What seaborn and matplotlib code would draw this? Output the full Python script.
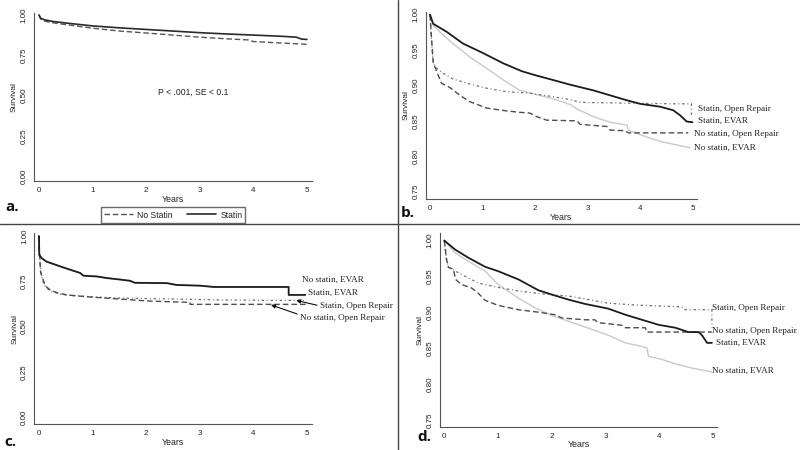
import matplotlib
matplotlib.use("Agg")
import matplotlib.pyplot as plt
import seaborn as sns
import pandas as pd
from matplotlib.lines import Line2D

# ---------------- data ----------------
# Panel a
a_statin_t = [0, 0.03, 0.1, 0.25, 0.5, 1, 1.5, 2, 2.5, 3, 3.5, 4, 4.5, 4.8, 4.9, 5.0]
a_statin_s = [1.0, 0.98, 0.97, 0.96, 0.95, 0.932, 0.92, 0.91, 0.90, 0.89, 0.882, 0.875, 0.868, 0.862, 0.85, 0.848]
a_nostatin_t = [0, 0.03, 0.1, 0.25, 0.5, 1, 1.5, 2, 2.5, 3, 3.5, 3.9, 4.0, 4.5, 5.0]
a_nostatin_s = [1.0, 0.975, 0.962, 0.952, 0.94, 0.918, 0.9, 0.888, 0.875, 0.862, 0.852, 0.845, 0.835, 0.826, 0.818]

# Panel b
b_statin_evar_t = [0, 0.06, 0.32, 0.63, 1.0, 1.4, 1.75, 2.0, 2.35, 2.67, 3.11, 3.43, 3.75, 4.0, 4.38, 4.63, 4.76, 4.89, 5.0]
b_statin_evar_s = [1.0, 0.987, 0.9755, 0.959, 0.946, 0.931, 0.920, 0.9145, 0.9075, 0.901, 0.893, 0.886, 0.879, 0.874, 0.870, 0.865, 0.858, 0.849, 0.848]
b_nostatin_evar_t = [0, 0.06, 0.25, 0.44, 0.76, 1.08, 1.4, 1.71, 2.03, 2.35, 2.67, 2.79, 3.11, 3.43, 3.75, 3.78, 4.06, 4.38, 4.7, 4.95]
b_nostatin_evar_s = [1.0, 0.985, 0.971, 0.959, 0.940, 0.924, 0.9075, 0.893, 0.887, 0.881, 0.873, 0.867, 0.856, 0.848, 0.844, 0.837, 0.829, 0.821, 0.816, 0.812]
b_statin_or_t = [0, 0.03, 0.06, 0.1, 0.25, 0.44, 0.76, 1.08, 1.46, 1.9, 2.35, 2.67, 2.86, 3.75, 4.7, 4.98, 4.98]
b_statin_or_s = [1.0, 0.96, 0.935, 0.926, 0.917, 0.909, 0.902, 0.896, 0.891, 0.889, 0.884, 0.880, 0.876, 0.875, 0.874, 0.874, 0.857]
b_nostatin_or_t = [0, 0.03, 0.06, 0.13, 0.22, 0.38, 0.57, 0.76, 1.08, 1.46, 1.71, 1.9, 2.03, 2.22, 2.8, 2.86, 3.37, 3.43, 3.71, 3.78, 4.92]
b_nostatin_or_s = [1.0, 0.966, 0.933, 0.919, 0.903, 0.897, 0.886, 0.877, 0.868, 0.864, 0.862, 0.861, 0.856, 0.851, 0.850, 0.845, 0.842, 0.837, 0.836, 0.833, 0.833]

# Panel c
c_statin_evar_t = [0, 0.006, 0.05, 0.14, 0.45, 0.77, 0.83, 1.08, 1.27, 1.51, 1.70, 1.79, 2.39, 2.57, 3.01, 3.26, 4.66, 4.66, 4.97]
c_statin_evar_s = [1.0, 0.896, 0.878, 0.859, 0.827, 0.796, 0.781, 0.777, 0.768, 0.760, 0.753, 0.742, 0.740, 0.730, 0.726, 0.719, 0.719, 0.675, 0.675]
c_nostatin_evar_t = c_statin_evar_t[:17]
c_nostatin_evar_s = c_statin_evar_s[:17]
c_statin_or_t = [0, 0.01, 0.03, 0.06, 0.1, 0.15, 0.25, 0.4, 0.6, 1.0, 1.5, 2.0, 2.6, 3.3, 4.2, 5.0]
c_statin_or_s = [1.0, 0.91, 0.82, 0.76, 0.73, 0.71, 0.692, 0.68, 0.672, 0.664, 0.658, 0.655, 0.652, 0.648, 0.645, 0.645]
c_nostatin_or_t = [0, 0.01, 0.03, 0.08, 0.12, 0.21, 0.35, 0.52, 0.89, 1.33, 1.76, 2.08, 2.82, 2.82, 5.0]
c_nostatin_or_s = [1.0, 0.90, 0.80, 0.757, 0.725, 0.702, 0.686, 0.675, 0.665, 0.656, 0.647, 0.641, 0.634, 0.623, 0.623]

# Panel d
d_statin_evar_t = [0, 0.2, 0.45, 0.76, 1.0, 1.38, 1.75, 2.0, 2.31, 2.62, 3.05, 3.37, 3.68, 3.99, 4.30, 4.54, 4.73, 4.79, 4.85, 4.89, 4.98]
d_statin_evar_s = [1.0, 0.9875, 0.976, 0.9635, 0.9575, 0.946, 0.931, 0.925, 0.918, 0.912, 0.9055, 0.897, 0.890, 0.883, 0.879, 0.873, 0.873, 0.869, 0.8625, 0.858, 0.858]
d_nostatin_evar_t = [0, 0.2, 0.45, 0.76, 1.0, 1.38, 1.69, 2.0, 2.31, 2.62, 3.05, 3.37, 3.68, 3.77, 3.80, 4.05, 4.30, 4.61, 4.98]
d_nostatin_evar_s = [1.0, 0.983, 0.971, 0.9575, 0.939, 0.920, 0.9065, 0.896, 0.888, 0.880, 0.8686, 0.858, 0.853, 0.851, 0.8394, 0.835, 0.829, 0.823, 0.8176]
d_statin_or_t = [0, 0.04, 0.075, 0.32, 0.63, 1.0, 1.38, 1.81, 2.31, 2.62, 3.05, 3.68, 4.42, 4.48, 4.98, 4.98]
d_statin_or_s = [1.0, 0.975, 0.963, 0.953, 0.941, 0.935, 0.930, 0.926, 0.923, 0.919, 0.913, 0.910, 0.908, 0.904, 0.904, 0.879]
d_nostatin_or_t = [0, 0.04, 0.075, 0.17, 0.21, 0.32, 0.51, 0.63, 0.76, 1.0, 1.38, 1.81, 2.06, 2.19, 2.62, 2.80, 2.86, 3.30, 3.37, 3.74, 3.77, 4.98]
d_nostatin_or_s = [1.0, 0.974, 0.963, 0.960, 0.946, 0.939, 0.934, 0.927, 0.917, 0.910, 0.904, 0.900, 0.897, 0.8925, 0.890, 0.890, 0.886, 0.8825, 0.879, 0.879, 0.873, 0.873]

year_ticks = [0, 1, 2, 3, 4, 5]
full_ticks = [0.00, 0.25, 0.50, 0.75, 1.00]
zoom_ticks = [0.75, 0.80, 0.85, 0.90, 0.95, 1.00]

labels_4 = ["Statin, Open Repair", "Statin, EVAR", "No statin, Open Repair", "No statin, EVAR"]

# ---------------- style ----------------
sns.set_theme(style="white")
plt.rcParams["font.family"] = ["Liberation Sans", "DejaVu Sans"]

STY = {
    "statin_evar": dict(color="#1c1c1c", lw=1.3, ls="-"),
    "nostatin_evar": dict(color="#c9c9c9", lw=1.0, ls="-"),
    "nostatin_or": dict(color="#4d4d4d", lw=1.0, ls=(0, (4, 2.2))),
    "statin_or": dict(color="#6f6f6f", lw=0.9, ls=(0, (2, 2.2, 0.8, 2.2))),
    "a_statin": dict(color="#2a2a2a", lw=1.2, ls="-"),
    "a_nostatin": dict(color="#555555", lw=1.0, ls=(0, (4, 2))),
}

fig = plt.figure(figsize=(8, 4.5), dpi=100)

def mkax(l, r, b, t):
    return fig.add_axes([l / 800, 1 - b / 450, (r - l) / 800, (b - t) / 450])

ax_a = mkax(34, 311.7, 181, 12.7)
ax_b = mkax(426, 696.7, 199, 11.7)
ax_c = mkax(34.3, 311.7, 424, 233.3)
ax_d = mkax(440, 717.3, 426.7, 233.3)

def draw(ax, t, s, key):
    df = pd.DataFrame({"t": t, "s": s})
    st = STY[key]
    sns.lineplot(data=df, x="t", y="s", ax=ax, estimator=None, sort=False,
                 color=st["color"], linewidth=st["lw"], linestyle=st["ls"])

def style_ax(ax, xlim, ylim, yticks):
    ax.set_xlim(*xlim)
    ax.set_ylim(*ylim)
    ax.set_xticks(year_ticks)
    ax.set_yticks(yticks)
    ax.set_yticklabels([f"{v:.2f}" for v in yticks])
    for sp in ["top", "right"]:
        ax.spines[sp].set_visible(False)
    for sp in ["left", "bottom"]:
        ax.spines[sp].set_color("#555555")
        ax.spines[sp].set_linewidth(0.8)
    ax.tick_params(axis="both", direction="out", length=3, width=0.6, color="#555555",
                   labelsize=5.8, labelcolor="#222222", pad=1.5)
    ax.tick_params(axis="y", labelrotation=90)
    for lab in ax.get_yticklabels():
        lab.set_va("center")
    ax.set_xlabel("Years", fontsize=6.3, color="#222222", labelpad=0.5)
    ax.set_ylabel("Survival", fontsize=6.0, color="#222222", labelpad=2)
    ax.grid(False)

# Panel a
draw(ax_a, a_nostatin_t, a_nostatin_s, "a_nostatin")
draw(ax_a, a_statin_t, a_statin_s, "a_statin")
style_ax(ax_a, (-0.093, 5.088), (-0.031, 1.014), full_ticks)
ax_a.text(2.87, 0.517, "P < .001, SE < 0.1", fontsize=6.2, ha="center", va="center", color="#222222")

handles = [Line2D([], [], color=STY["a_nostatin"]["color"], lw=1.0, ls=STY["a_nostatin"]["ls"]),
           Line2D([], [], color=STY["a_statin"]["color"], lw=1.2)]
fig.legend(handles, ["No Statin", "Statin"], loc="center", bbox_to_anchor=(173 / 800, 1 - 215 / 450),
           ncol=2, fontsize=6.2, frameon=True, fancybox=False, edgecolor="#444444",
           handlelength=3.4, columnspacing=1.6, borderpad=0.35, handletextpad=0.5)

# Panel b
draw(ax_b, b_nostatin_evar_t, b_nostatin_evar_s, "nostatin_evar")
draw(ax_b, b_statin_or_t, b_statin_or_s, "statin_or")
draw(ax_b, b_nostatin_or_t, b_nostatin_or_s, "nostatin_or")
draw(ax_b, b_statin_evar_t, b_statin_evar_s, "statin_evar")
style_ax(ax_b, (-0.076, 5.08), (0.7397, 1.004), zoom_ticks)
serif = ["Liberation Serif", "DejaVu Serif"]
b_lab_pos = [(5.1, 0.8666), (5.1, 0.850), (5.02, 0.832), (5.03, 0.812)]
for txt, (x, y) in zip(labels_4, b_lab_pos):
    ax_b.text(x, y, txt, fontsize=6.6, family=serif, ha="left", va="center", color="#222222", clip_on=False)

# Panel c
draw(ax_c, c_nostatin_evar_t, c_nostatin_evar_s, "nostatin_evar")
draw(ax_c, c_statin_or_t, c_statin_or_s, "statin_or")
draw(ax_c, c_nostatin_or_t, c_nostatin_or_s, "nostatin_or")
draw(ax_c, c_statin_evar_t, c_statin_evar_s, "statin_evar")
style_ax(ax_c, (-0.087, 5.09), (-0.037, 1.015), full_ticks)
ax_c.text(4.90, 0.757, "No statin, EVAR", fontsize=6.6, family=serif, ha="left", va="center", color="#222222", clip_on=False)
ax_c.text(5.03, 0.684, "Statin, EVAR", fontsize=6.6, family=serif, ha="left", va="center", color="#222222", clip_on=False)
ax_c.annotate("Statin, Open Repair", xy=(4.8, 0.645), xytext=(5.25, 0.614), fontsize=6.6, family=serif,
              ha="left", va="center", color="#222222", annotation_clip=False,
              arrowprops=dict(arrowstyle="-|>", color="#111111", lw=0.8, mutation_scale=6,
                              shrinkA=0, shrinkB=0, relpos=(0, 0.5)))
ax_c.annotate("No statin, Open Repair", xy=(4.33, 0.62), xytext=(4.88, 0.546), fontsize=6.6, family=serif,
              ha="left", va="center", color="#222222", annotation_clip=False,
              arrowprops=dict(arrowstyle="-|>", color="#111111", lw=0.8, mutation_scale=6,
                              shrinkA=0, shrinkB=0, relpos=(0, 0.9)))

# Panel d
draw(ax_d, d_nostatin_evar_t, d_nostatin_evar_s, "nostatin_evar")
draw(ax_d, d_statin_or_t, d_statin_or_s, "statin_or")
draw(ax_d, d_nostatin_or_t, d_nostatin_or_s, "nostatin_or")
draw(ax_d, d_statin_evar_t, d_statin_evar_s, "statin_evar")
style_ax(ax_d, (-0.08, 5.08), (0.7417, 1.01), zoom_ticks)
ax_d.xaxis.labelpad = 0
d_lab_pos = [(4.99, 0.906), (5.05, 0.8575), (4.99, 0.8746), (4.99, 0.8195)]
for txt, (x, y) in zip(labels_4, d_lab_pos):
    ax_d.text(x, y, txt, fontsize=6.6, family=serif, ha="left", va="center", color="#222222", clip_on=False)

# Panel letters
letter_font = ["Open Sans", "DejaVu Sans"]
for lt, (px, py) in zip(["a.", "b.", "c.", "d."], [(5, 207), (401, 213), (4, 442), (417, 437)]):
    fig.text(px / 800, 1 - py / 450, lt, fontsize=11, fontweight="bold", family=letter_font,
             ha="left", va="center", color="#111111")

# Divider lines
fig.add_artist(Line2D([398 / 800, 398 / 800], [0, 1], color="#444444", lw=1.0, transform=fig.transFigure))
fig.add_artist(Line2D([0, 1], [1 - 224 / 450, 1 - 224 / 450], color="#444444", lw=1.0, transform=fig.transFigure))

fig.savefig("out.png", dpi=100)
